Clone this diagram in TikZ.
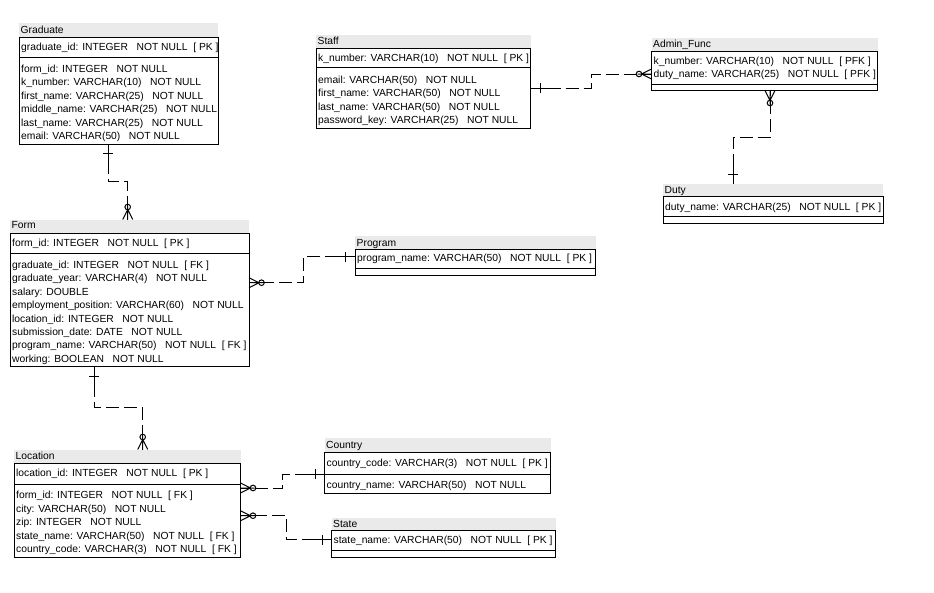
\documentclass[tikz,border=0pt]{standalone}
\usepackage{fontspec}
\setmainfont{Liberation Sans}
\usetikzlibrary{calc}
\definecolor{titlegray}{RGB}{234,234,234}
% column annotations
\newcommand\nnull{\ \ \ NOT NULL}
\newcommand\pkey{\ \ [ PK ]}
\newcommand\fkey{\ \ [ FK ]}
\newcommand\pfkey{\ \ [ PFK ]}
\newcommand\erfont{\fontsize{10.3}{12}\selectfont}
% "zero or many" end: crow's foot plus circle, #2 = direction away from the table
\newcommand\crowzero[2]{%
  \begin{scope}[shift={(#1)},rotate=#2]
    \draw[cardmark] (0pt,-5pt) -- (10pt,0pt) -- (0pt,5pt) (0pt,0pt) -- (14pt,0pt);
    \draw[cardmark] (12.5pt,0pt) circle[radius=2.8pt];
  \end{scope}}
% "exactly one" end: a single bar across the line
\newcommand\onetick[2]{%
  \begin{scope}[shift={(#1)},rotate=#2]
    \draw[cardmark] (9.5pt,-5pt) -- (9.5pt,5pt);
  \end{scope}}
\tikzset{
  titlebar/.style={fill=titlegray,draw=none,anchor=north west,inner sep=0pt,outer sep=0pt},
  table/.style={draw=black,line width=1pt,fill=white,anchor=north west,inner sep=0pt,outer sep=0pt},
  rowtext/.style={anchor=base west,inner sep=0pt,font=\erfont},
  titletext/.style={anchor=base west,inner sep=0pt,font=\erfont},
  sepline/.style={line width=1pt},
  conn/.style={line width=1pt,dash pattern=on 30pt off 5pt on 13pt off 5pt on 13pt off 5pt on 13pt off 5pt on 13pt off 5pt on 13pt off 5pt on 13pt off 5pt on 13pt off 5pt on 13pt off 5pt on 13pt off 5pt on 13pt off 5pt},
  cardmark/.style={line width=1pt,solid},
}
\begin{document}
\begin{tikzpicture}[x=1pt,y=-1pt]
\useasboundingbox (0,0) rectangle (934,592);

% ---------------- Graduate ----------------
\node[titlebar,minimum width=199pt,minimum height=14pt] (gradT) at (19,23) {};
\node[titletext] (gradL) at (20.5,33.8) {Graduate};
\node[table,minimum width=199pt,minimum height=107pt] (grad) at (19,37) {};
\draw[sepline] (grad.west |- 0,57.5) -- (grad.east |- 0,57.5);
\node[rowtext] (g0) at (21,50.8) {graduate\_id: INTEGER\nnull\pkey};
\node[rowtext] (g1) at (21,72.3) {form\_id: INTEGER\nnull};
\node[rowtext] (g2) at (21,85.8) {k\_number: VARCHAR(10)\nnull};
\node[rowtext] (g3) at (21,99.3) {first\_name: VARCHAR(25)\nnull};
\node[rowtext] (g4) at (21,112.8) {middle\_name: VARCHAR(25)\nnull};
\node[rowtext] (g5) at (21,126.3) {last\_name: VARCHAR(25)\nnull};
\node[rowtext] (g6) at (21,139.8) {email: VARCHAR(50)\nnull};

% ---------------- Form ----------------
\node[titlebar,minimum width=239pt,minimum height=13.8pt] (formT) at (10,219.5) {};
\node[titletext] (formL) at (11.5,228.8) {Form};
\node[table,minimum width=239pt,minimum height=133.4pt] (form) at (10,233.3) {};
\draw[sepline] (form.west |- 0,253) -- (form.east |- 0,253);
\node[rowtext] (f0) at (12,246.1) {form\_id: INTEGER\nnull\pkey};
\node[rowtext] (f1) at (12,268.3) {graduate\_id: INTEGER\nnull\fkey};
\node[rowtext] (f2) at (12,281.8) {graduate\_year: VARCHAR(4)\nnull};
\node[rowtext] (f3) at (12,295.2) {salary: DOUBLE};
\node[rowtext] (f4) at (12,308.6) {employment\_position: VARCHAR(60)\nnull};
\node[rowtext] (f5) at (12,322) {location\_id: INTEGER\nnull};
\node[rowtext] (f6) at (12,335.4) {submission\_date: DATE\nnull};
\node[rowtext] (f7) at (12,348.8) {program\_name: VARCHAR(50)\nnull\fkey};
\node[rowtext] (f8) at (12,362.2) {working: BOOLEAN\nnull};

% ---------------- Location ----------------
\node[titlebar,minimum width=226.5pt,minimum height=14pt] (locT) at (14,449.5) {};
\node[titletext] (locL) at (15.5,459.8) {Location};
\node[table,minimum width=226.5pt,minimum height=93.5pt] (loc) at (14,463.5) {};
\draw[sepline] (loc.west |- 0,484) -- (loc.east |- 0,484);
\node[rowtext] (l0) at (16,476.1) {location\_id: INTEGER\nnull\pkey};
\node[rowtext] (l1) at (16,498.8) {form\_id: INTEGER\nnull\fkey};
\node[rowtext] (l2) at (16,512.3) {city: VARCHAR(50)\nnull};
\node[rowtext] (l3) at (16,525.8) {zip: INTEGER\nnull};
\node[rowtext] (l4) at (16,539.3) {state\_name: VARCHAR(50)\nnull\fkey};
\node[rowtext] (l5) at (16,552.8) {country\_code: VARCHAR(3)\nnull\fkey};

% ---------------- Staff ----------------
\node[titlebar,minimum width=214.5pt,minimum height=13.3pt] (staffT) at (316,35) {};
\node[titletext] (staffL) at (317.5,44.8) {Staff};
\node[table,minimum width=214.5pt,minimum height=80.2pt] (staff) at (316,48.3) {};
\draw[sepline] (staff.west |- 0,67.7) -- (staff.east |- 0,67.7);
\node[rowtext] (s0) at (318,61.1) {k\_number: VARCHAR(10)\nnull\pkey};
\node[rowtext] (s1) at (318,83.1) {email: VARCHAR(50)\nnull};
\node[rowtext] (s2) at (318,96.7) {first\_name: VARCHAR(50)\nnull};
\node[rowtext] (s3) at (318,110.3) {last\_name: VARCHAR(50)\nnull};
\node[rowtext] (s4) at (318,123.9) {password\_key: VARCHAR(25)\nnull};

% ---------------- Admin_Func ----------------
\node[titlebar,minimum width=226pt,minimum height=13.5pt] (adminT) at (651.5,38) {};
\node[titletext] (adminL) at (653,47.8) {Admin\_Func};
\node[table,minimum width=226pt,minimum height=39pt] (admin) at (651.5,51.5) {};
\draw[sepline] (admin.west |- 0,84.7) -- (admin.east |- 0,84.7);
\node[rowtext] (a0) at (653.5,64.5) {k\_number: VARCHAR(10)\nnull\pfkey};
\node[rowtext] (a1) at (653.5,77.9) {duty\_name: VARCHAR(25)\nnull\pfkey};

% ---------------- Duty ----------------
\node[titlebar,minimum width=220pt,minimum height=12.5pt] (dutyT) at (663,184) {};
\node[titletext] (dutyL) at (664.5,193.8) {Duty};
\node[table,minimum width=220pt,minimum height=27pt] (duty) at (663,196.5) {};
\draw[sepline] (duty.west |- 0,216.7) -- (duty.east |- 0,216.7);
\node[rowtext] (d0) at (665,210.5) {duty\_name: VARCHAR(25)\nnull\pkey};

% ---------------- Program ----------------
\node[titlebar,minimum width=240.5pt,minimum height=13.5pt] (progT) at (355,236) {};
\node[titletext] (progL) at (356.5,246.8) {Program};
\node[table,minimum width=240.5pt,minimum height=26pt] (prog) at (355,249.5) {};
\draw[sepline] (prog.west |- 0,268.5) -- (prog.east |- 0,268.5);
\node[rowtext] (p0) at (357,261.8) {program\_name: VARCHAR(50)\nnull\pkey};

% ---------------- Country ----------------
\node[titlebar,minimum width=225.8pt,minimum height=14.2pt] (ctryT) at (324.7,438.3) {};
\node[titletext] (ctryL) at (326,448.8) {Country};
\node[table,minimum width=225.8pt,minimum height=40.5pt] (ctry) at (324.7,452.5) {};
\draw[sepline] (ctry.west |- 0,474) -- (ctry.east |- 0,474);
\node[rowtext] (c0) at (326.5,466.3) {country\_code: VARCHAR(3)\nnull\pkey};
\node[rowtext] (c1) at (326.5,488.3) {country\_name: VARCHAR(50)\nnull};

% ---------------- State ----------------
\node[titlebar,minimum width=223.8pt,minimum height=13pt] (stateT) at (331.7,517.5) {};
\node[titletext] (stateL) at (333,527.3) {State};
\node[table,minimum width=223.8pt,minimum height=27pt] (state) at (331.7,530.5) {};
\draw[sepline] (state.west |- 0,550.5) -- (state.east |- 0,550.5);
\node[rowtext] (st0) at (333.5,543.3) {state\_name: VARCHAR(50)\nnull\pkey};

% ---------------- relationships (drawn from the "one" side) ----------------
% Graduate -> Form
\coordinate (c1s) at (grad.south -| 108.3,0);
\coordinate (c1e) at (formT.north -| 127.7,0);
\draw[conn] (c1s) -- ++(0,37.5) -| (c1e);
\onetick{c1s}{-90}
\crowzero{c1e}{90}

% Program -> Form
\coordinate (c2s) at (prog.west |- 0,256.7);
\coordinate (c2e) at (form.east |- 0,282.7);
\draw[conn] (c2s) -- ++(-51.7,0) |- (c2e);
\onetick{c2s}{180}
\crowzero{c2e}{0}

% Form -> Location
\coordinate (c3s) at (form.south -| 94.3,0);
\coordinate (c3e) at (locT.north -| 142.7,0);
\draw[conn] (c3s) -- ++(0,41) -| (c3e);
\onetick{c3s}{-90}
\crowzero{c3e}{90}

% Country -> Location
\coordinate (c4s) at (ctry.west |- 0,474);
\coordinate (c4e) at (loc.east |- 0,488);
\draw[conn] (c4s) -- ++(-42,0) |- (c4e);
\onetick{c4s}{180}
\crowzero{c4e}{0}

% State -> Location
\coordinate (c5s) at (state.west |- 0,539.5);
\coordinate (c5e) at (loc.east |- 0,515.7);
\draw[conn] (c5s) -- ++(-45,0) |- (c5e);
\onetick{c5s}{180}
\crowzero{c5e}{0}

% Staff -> Admin_Func
\coordinate (c6s) at (staff.east |- 0,88);
\coordinate (c6e) at (admin.west |- 0,74);
\draw[conn] (c6s) -- ++(61.2,0) |- (c6e);
\onetick{c6s}{0}
\crowzero{c6e}{180}

% Duty -> Admin_Func
\coordinate (c7s) at (dutyT.north -| 733.3,0);
\coordinate (c7e) at (admin.south -| 770,0);
\draw[conn] (c7s) -- ++(0,-46.7) -| (c7e);
\onetick{c7s}{90}
\crowzero{c7e}{-90}
\end{tikzpicture}
\end{document}
